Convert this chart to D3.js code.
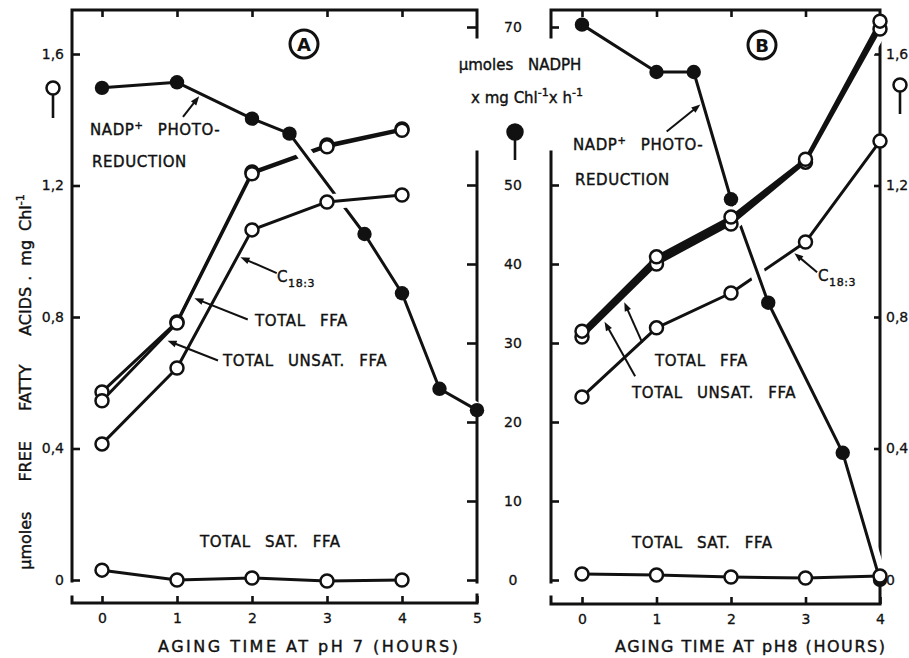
<!DOCTYPE html>
<html>
<head>
<meta charset="utf-8">
<script src="https://cdn.jsdelivr.net/npm/d3@7"></script>
<style>
  body { margin: 0; background: #fff; }
  svg text { font-family: "DejaVu Sans", sans-serif; fill: #111; }
</style>
</head>
<body>
<svg id="chart" width="909" height="658"></svg>
<script>
// Values (FFA in umoles/mg Chl, NADPH in umoles/mg Chl/h)
const hoursA = [0, 1, 2, 3, 4];
const totalFfaA = [0.572, 0.785, 1.241, 1.323, 1.372];
const unsatFfaA = [0.545, 0.782, 1.236, 1.318, 1.368];
const c183A = [0.414, 0.645, 1.065, 1.150, 1.171];
const satFfaA = [0.030, 0.000, 0.006, -0.003, 0.000];
const nadphHoursA = [0, 1, 2, 2.5, 3.5, 4, 4.5, 5];
const nadphA = [62.3, 63.0, 58.4, 56.5, 43.8, 36.3, 24.2, 21.5];

const hoursB = [0, 1, 2, 3, 4];
const totalFfaB = [0.757, 0.983, 1.104, 1.280, 1.700];
const unsatFfaB = [0.739, 0.961, 1.083, 1.271, 1.676];
const c183B = [0.557, 0.767, 0.873, 1.028, 1.335];
const satFfaB = [0.018, 0.015, 0.009, 0.006, 0.012];
const nadphHoursB = [0, 1, 1.5, 2, 2.5, 3.5, 4];
const nadphB = [70.3, 64.3, 64.3, 48.2, 35.1, 16.1, 0];

const ffaTicks = [0, 0.4, 0.8, 1.2, 1.6];
const nadphTicks = [0, 10, 20, 30, 40, 50, 70];
const hourTicksA = [0, 1, 2, 3, 4, 5];
const hourTicksB = [0, 1, 2, 3, 4];

const ink = "#111";
const svg = d3.select("#chart");

// scales
const xA = d3.scaleLinear().domain([0, 5]).range([102, 477]);
const xB = d3.scaleLinear().domain([0, 4]).range([582, 880]);
const yFfa = d3.scaleLinear().domain([0, 1.6]).range([580, 54]);
const yNadph = d3.scaleLinear().domain([0, 70]).range([580, 27]);

const fmtComma = d => String(d).replace(".", ",");

function drawAxis(gen, tx, ty) {
  const g = svg.append("g")
    .attr("transform", `translate(${tx},${ty})`)
    .call(gen);
  g.select(".domain").remove();
  g.attr("font-size", 14).attr("font-family", "DejaVu Sans");
  g.selectAll(".tick line").attr("stroke", ink).attr("stroke-width", 2.6);
  g.selectAll(".tick text").attr("fill", ink).attr("stroke", ink).attr("stroke-width", 0.3);
  return g;
}

// frame pieces (the hand drawn axis lines)
const frame = svg.append("g")
  .attr("fill", "none").attr("stroke", ink).attr("stroke-width", 3)
  .attr("stroke-linecap", "square");
frame.append("path").attr("d", "M72,581V10H477V37");
frame.append("path").attr("d", "M477,152V582");
frame.append("path").attr("d", "M72,597V603H477V595");
frame.append("path").attr("d", "M551,37V10H880V604H551V597");
frame.append("path").attr("d", "M551,152V582");

// y axes
drawAxis(d3.axisLeft(yFfa).tickValues(ffaTicks).tickSize(-8).tickPadding(8).tickFormat(fmtComma), 72, 0);
drawAxis(d3.axisRight(yNadph).tickValues(nadphTicks).tickSize(-10).tickFormat(""), 477, 0);
const midAxis = drawAxis(d3.axisLeft(yNadph).tickValues(nadphTicks).tickSize(-8).tickFormat(d3.format("d")), 551, 0);
midAxis.selectAll(".tick text").attr("text-anchor", "middle").attr("x", -38);
drawAxis(d3.axisRight(yFfa).tickValues(ffaTicks).tickSize(-6).tickPadding(6).tickFormat(fmtComma), 880, 0);

// x axes (bottom with labels, top border ticks)
drawAxis(d3.axisBottom(xA).tickValues(hourTicksA).tickSize(-7).tickPadding(10).tickFormat(d3.format("d")), 0, 603);
drawAxis(d3.axisBottom(xB).tickValues(hourTicksB).tickSize(-7).tickPadding(10).tickFormat(d3.format("d")), 0, 604);
drawAxis(d3.axisTop(xA).tickValues([0, 1, 2, 3, 4]).tickSize(-7).tickFormat(""), 0, 10);
drawAxis(d3.axisTop(xB).tickValues([0, 1, 2, 3]).tickSize(-7).tickFormat(""), 0, 10);

// series per panel; layer sets the drawing order, halo leaves a white gap
// where the line crosses lines of lower layers
const panels = [
  { x: xA, bands: [], series: [
    { name: "total", hours: hoursA, values: totalFfaA, y: yFfa, filled: false, layer: 0 },
    { name: "unsat", hours: hoursA, values: unsatFfaA, y: yFfa, filled: false, layer: 0 },
    { name: "nadph", hours: nadphHoursA, values: nadphA, y: yNadph, filled: true, layer: 1, halo: true },
    { name: "c183", hours: hoursA, values: c183A, y: yFfa, filled: false, layer: 2, halo: true },
    { name: "sat", hours: hoursA, values: satFfaA, y: yFfa, filled: false, layer: 2 }
  ]},
  // in B total and unsaturated FFA run together as one heavy line
  { x: xB, bands: [["unsat", "total"]], series: [
    { name: "c183", hours: hoursB, values: c183B, y: yFfa, filled: false, layer: 0 },
    { name: "nadph", hours: nadphHoursB, values: nadphB, y: yNadph, filled: true, layer: 1, halo: true },
    { name: "sat", hours: hoursB, values: satFfaB, y: yFfa, filled: false, layer: 1 },
    { name: "unsat", hours: hoursB, values: unsatFfaB, y: yFfa, filled: false, layer: 2, halo: true },
    { name: "total", hours: hoursB, values: totalFfaB, y: yFfa, filled: false, layer: 2, halo: true }
  ]}
];

// label pointers: tip sits on a series at an hour, tail offset in px
const pointers = [
  { panel: 0, series: "nadph", at: 1.32, dx: -18, dy: 23, gap: 3 },
  { panel: 0, series: "c183", at: 1.81, dx: 39, dy: 17, gap: 3 },
  { panel: 0, series: "total", at: 1.17, dx: 58, dy: 23, gap: 5 },
  { panel: 0, series: "unsat", at: 0.80, dx: 56, dy: 22, gap: 6 },
  { panel: 1, series: "nadph", at: 1.62, dx: -36, dy: 29, gap: 3 },
  { panel: 1, series: "c183", at: 2.82, dx: 25, dy: 21, gap: 3 },
  { panel: 1, series: "unsat", at: 0.54, dx: 20, dy: 45, gap: 5 },
  { panel: 1, series: "unsat", at: 0.27, dx: 33, dy: 59, gap: 5 }
];

function pts(p, s) {
  return s.hours.map((h, i) => [p.x(h), s.y(s.values[i])]);
}
function pointOn(p, s, hour) {
  const i = d3.bisectRight(s.hours, hour) - 1;
  const t = (hour - s.hours[i]) / (s.hours[i + 1] - s.hours[i]);
  const a = [p.x(s.hours[i]), s.y(s.values[i])];
  const b = [p.x(s.hours[i + 1]), s.y(s.values[i + 1])];
  return [a[0] + t * (b[0] - a[0]), a[1] + t * (b[1] - a[1])];
}

const line = d3.line();
panels.forEach(p => {
  const layers = d3.groups(p.series, s => s.layer).sort((a, b) => a[0] - b[0]);
  layers.forEach(([, list]) => {
    const g = svg.append("g").attr("fill", "none").attr("stroke-linejoin", "round");
    list.filter(s => s.halo).forEach(s => {
      g.append("path").attr("d", line(pts(p, s)))
        .attr("stroke", "#fff").attr("stroke-width", 15);
    });
    p.bands.forEach(([lo, hi]) => {
      const a = list.find(s => s.name === lo), b = list.find(s => s.name === hi);
      if (!a || !b) return;
      const area = d3.area()
        .x((h) => p.x(h))
        .y0((h, i) => a.y(a.values[i]))
        .y1((h, i) => b.y(b.values[i]));
      g.append("path").attr("d", area(a.hours)).attr("fill", ink);
    });
    list.forEach(s => {
      g.append("path").attr("d", line(pts(p, s)))
        .attr("stroke", ink).attr("stroke-width", 3);
    });
  });
});

// pointers on top of the data lines
const arrows = pointers.map(d => {
  const p = panels[d.panel];
  const s = p.series.find(e => e.name === d.series);
  const on = pointOn(p, s, d.at);
  const len = Math.hypot(d.dx, d.dy);
  const ux = d.dx / len, uy = d.dy / len;
  const tip = [on[0] + ux * d.gap, on[1] + uy * d.gap];
  return { tip, tail: [on[0] + d.dx, on[1] + d.dy], ux, uy };
});
svg.append("g").selectAll("line").data(arrows).join("line")
  .attr("x1", d => d.tip[0] + d.ux * 5).attr("y1", d => d.tip[1] + d.uy * 5)
  .attr("x2", d => d.tail[0]).attr("y2", d => d.tail[1])
  .attr("stroke", ink).attr("stroke-width", 2);
svg.append("g").selectAll("path").data(arrows).join("path")
  .attr("d", d => {
    const [x, y] = d.tip, L = 9, W = 3.4;
    const bx = x + d.ux * L, by = y + d.uy * L;
    return `M${x},${y}L${bx - d.uy * W},${by + d.ux * W}L${bx + d.uy * W},${by - d.ux * W}Z`;
  })
  .attr("fill", ink);

// markers: filled first, open circles on top
panels.forEach(p => {
  p.series.filter(s => s.filled).forEach(s => {
    svg.append("g").selectAll("circle").data(pts(p, s)).join("circle")
      .attr("cx", d => d[0]).attr("cy", d => d[1]).attr("r", 7.2).attr("fill", ink);
  });
});
panels.forEach(p => {
  p.series.filter(s => !s.filled).forEach(s => {
    svg.append("g").selectAll("circle").data(pts(p, s)).join("circle")
      .attr("cx", d => d[0]).attr("cy", d => d[1]).attr("r", 6.5)
      .attr("fill", "#fff").attr("stroke", ink).attr("stroke-width", 2.5);
  });
});

// text labels inside the panels
const labels = [
  { x: 90, y: 135, parts: [["NADP"], ["+", "sup"], [" PHOTO-"]] },
  { x: 92, y: 167, parts: [["REDUCTION"]] },
  { x: 277, y: 282, parts: [["C"], ["18:3", "sub"]] },
  { x: 255, y: 326, parts: [["TOTAL FFA"]] },
  { x: 223, y: 366, parts: [["TOTAL UNSAT. FFA"]] },
  { x: 200, y: 547, parts: [["TOTAL SAT. FFA"]] },
  { x: 573, y: 150, parts: [["NADP"], ["+", "sup"], [" PHOTO-"]] },
  { x: 575, y: 185, parts: [["REDUCTION"]] },
  { x: 818, y: 281, parts: [["C"], ["18:3", "sub"]] },
  { x: 655, y: 366, parts: [["TOTAL FFA"]] },
  { x: 632, y: 398, parts: [["TOTAL UNSAT. FFA"]] },
  { x: 632, y: 548, parts: [["TOTAL SAT. FFA"]] }
];

labels.forEach(l => {
  const t = svg.append("text").attr("x", l.x).attr("y", l.y)
    .attr("font-size", 15).attr("letter-spacing", 0.6).attr("word-spacing", 9)
    .attr("stroke", ink).attr("stroke-width", 0.4);
  let shift = 0;
  l.parts.forEach(([str, kind]) => {
    const ts = t.append("tspan").text(str);
    if (kind === "sup") { ts.attr("font-size", 10).attr("dy", -6); shift = 6; }
    else if (kind === "sub") { ts.attr("font-size", 11).attr("dy", 5); shift = -5; }
    else if (shift) { ts.attr("dy", shift); shift = 0; }
  });
});

// circled panel letters
[["A", 304, 44], ["B", 762, 45]].forEach(([letter, cx, cy]) => {
  svg.append("circle").attr("cx", cx).attr("cy", cy).attr("r", 14)
    .attr("fill", "none").attr("stroke", ink).attr("stroke-width", 3);
  svg.append("text").attr("x", cx).attr("y", cy + 6.5).attr("text-anchor", "middle")
    .attr("font-size", 18).attr("font-weight", "bold").text(letter);
});

// key symbols next to the axes
function keySymbol(cx, cy, filled, stemEnd) {
  svg.append("line").attr("x1", cx).attr("x2", cx).attr("y1", cy).attr("y2", stemEnd)
    .attr("stroke", ink).attr("stroke-width", 2.6);
  svg.append("circle").attr("cx", cx).attr("cy", cy).attr("r", filled ? 7.5 : 6.5)
    .attr("fill", filled ? ink : "#fff").attr("stroke", ink).attr("stroke-width", 2.5);
}
keySymbol(53, 88, false, 118);
keySymbol(515, 132, true, 160);
keySymbol(900, 85, false, 114);

// NADPH axis title
svg.append("text").attr("x", 520).attr("y", 70).attr("text-anchor", "middle")
  .attr("font-size", 15).attr("word-spacing", 10).attr("stroke", ink).attr("stroke-width", 0.4)
  .text("\u03bcmoles NADPH");
const t2 = svg.append("text").attr("x", 527).attr("y", 103).attr("text-anchor", "middle")
  .attr("font-size", 15).attr("stroke", ink).attr("stroke-width", 0.4);
t2.append("tspan").text("x mg Chl");
t2.append("tspan").attr("font-size", 11).attr("dy", -7).text("-1");
t2.append("tspan").attr("dy", 7).text("x h");
t2.append("tspan").attr("font-size", 11).attr("dy", -7).text("-1");

// left FFA axis title (vertical)
const yt = svg.append("text")
  .attr("transform", "translate(31,382) rotate(-90)")
  .attr("text-anchor", "middle").attr("font-size", 16)
  .attr("stroke", ink).attr("stroke-width", 0.4);
yt.append("tspan").text("\u03bcmoles");
yt.append("tspan").attr("dx", 30).text("FREE");
yt.append("tspan").attr("dx", 30).text("FATTY");
yt.append("tspan").attr("dx", 30).text("ACIDS");
yt.append("tspan").attr("dx", 6).text(".");
yt.append("tspan").attr("dx", 10).text("mg");
yt.append("tspan").attr("dx", 9).text("Chl");
yt.append("tspan").attr("font-size", 11).attr("dy", -7).text("-1");

// time axis titles
svg.append("text").attr("x", 158).attr("y", 652).attr("font-size", 16)
  .attr("textLength", 300).attr("lengthAdjust", "spacing")
  .attr("stroke", ink).attr("stroke-width", 0.4)
  .text("AGING TIME AT pH 7 (HOURS)");
svg.append("text").attr("x", 615).attr("y", 652).attr("font-size", 16)
  .attr("textLength", 270).attr("lengthAdjust", "spacing")
  .attr("stroke", ink).attr("stroke-width", 0.4)
  .text("AGING TIME AT pH8 (HOURS)");
</script>
</body>
</html>
